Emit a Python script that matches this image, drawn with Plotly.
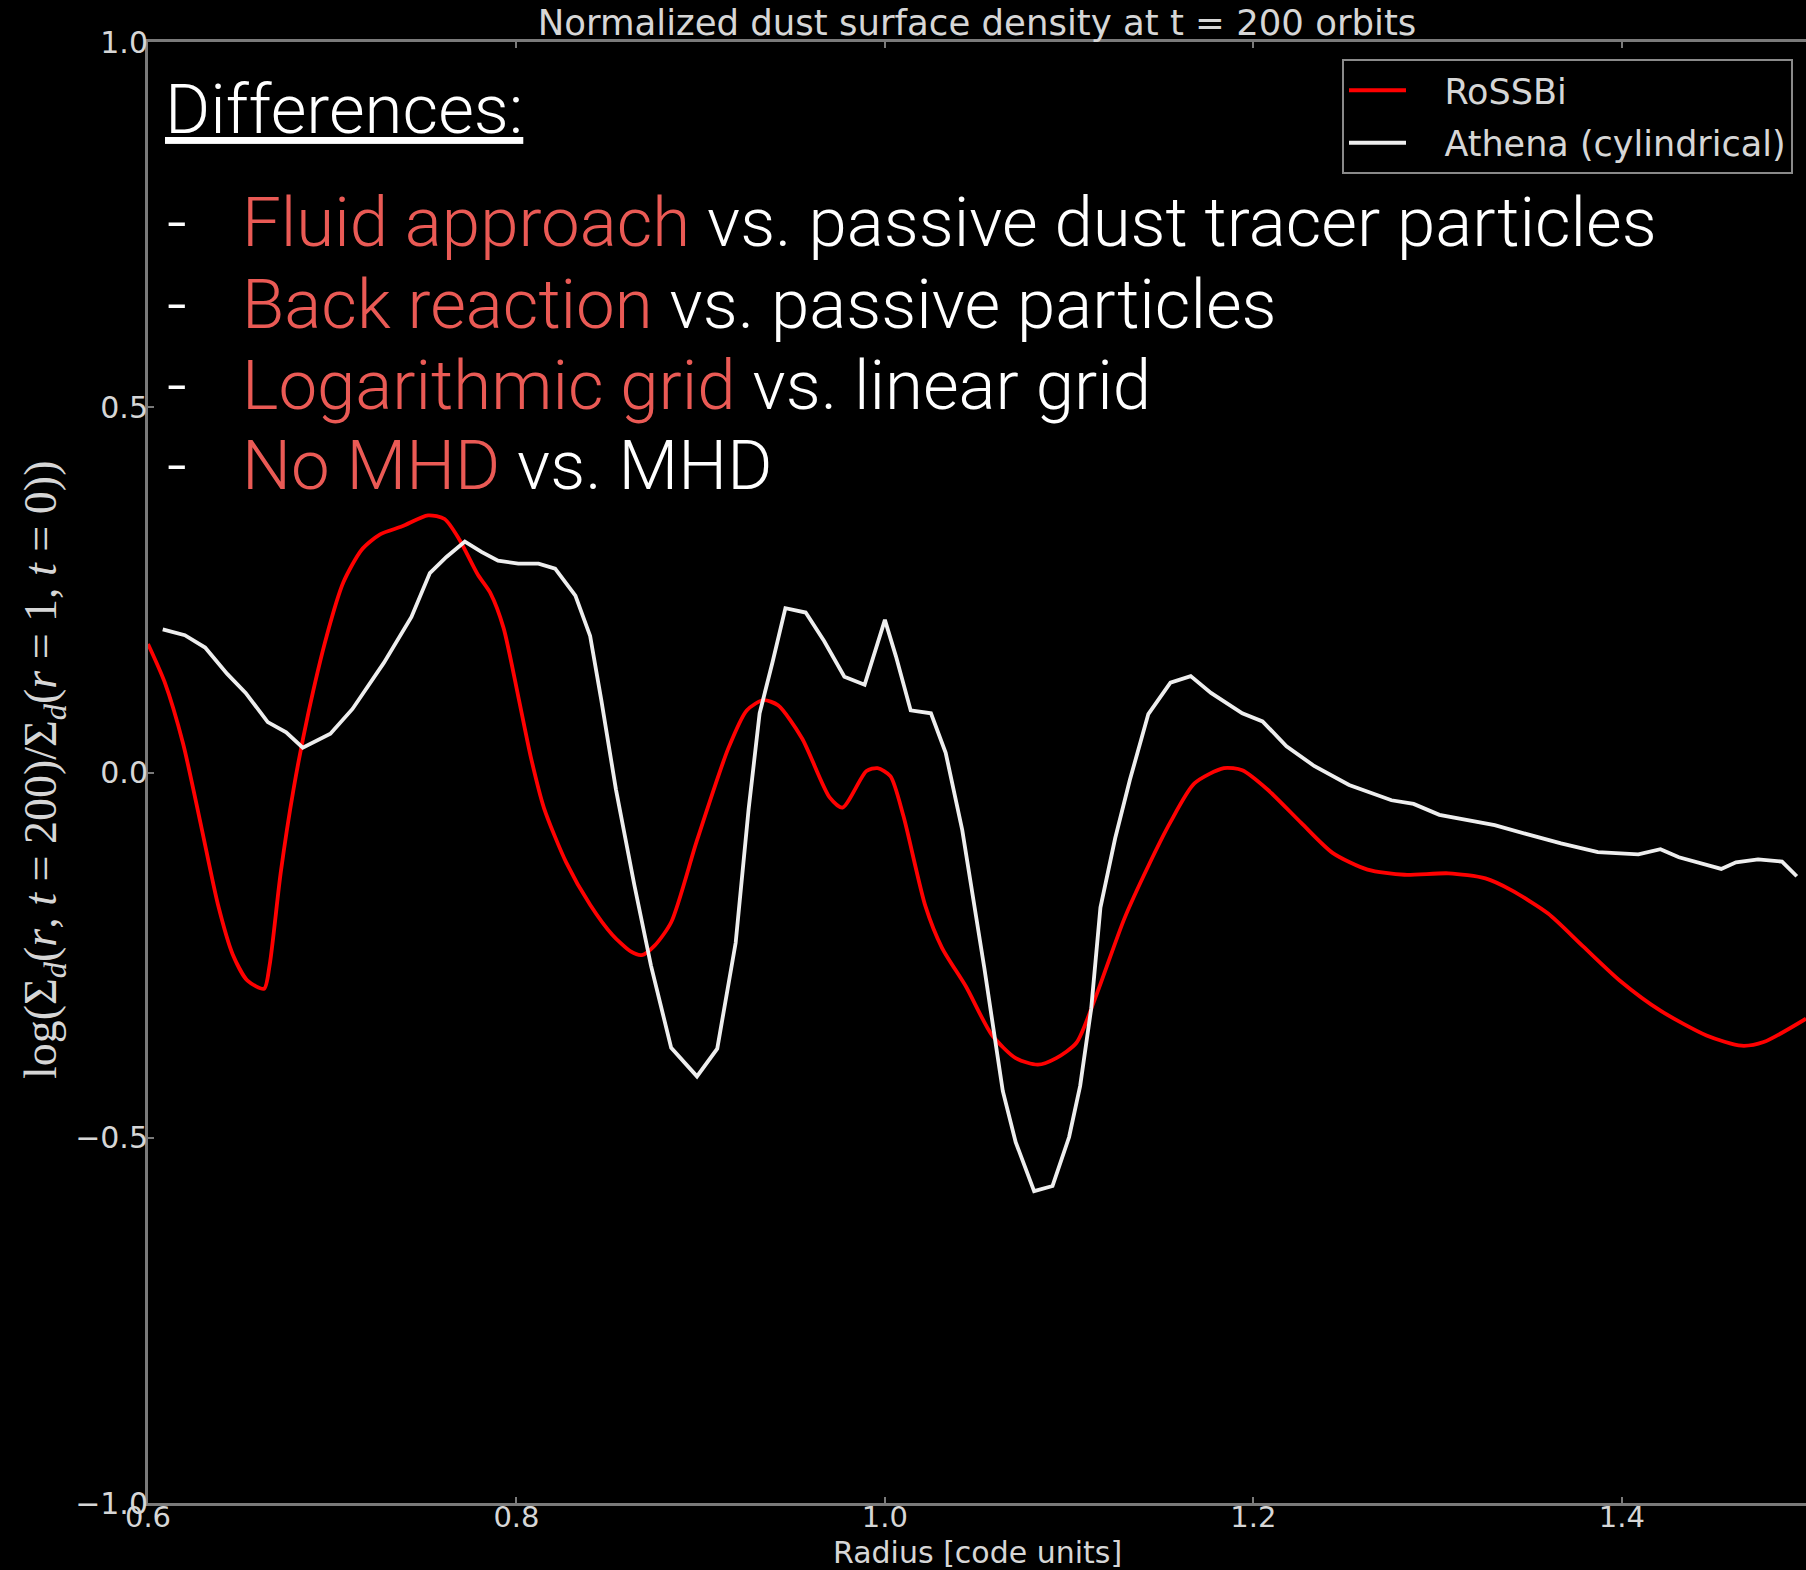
import plotly.graph_objects as go

# Normalized dust surface density log(Sigma_d(r, t=200) / Sigma_d(r=1, t=0))
radius_rossbi = [
    0.600, 0.609, 0.619, 0.629, 0.638, 0.646, 0.654, 0.663, 0.666, 0.672,
    0.679, 0.687, 0.697, 0.706, 0.716, 0.726, 0.738, 0.752, 0.761, 0.769,
    0.779, 0.786, 0.793, 0.801, 0.808, 0.815, 0.827, 0.840, 0.852, 0.862,
    0.868, 0.875, 0.884, 0.898, 0.915, 0.925, 0.934, 0.942, 0.955, 0.970,
    0.977, 0.990, 0.996, 1.003, 1.010, 1.022, 1.031, 1.044, 1.058, 1.071,
    1.083, 1.093, 1.104, 1.114, 1.130, 1.143, 1.155, 1.168, 1.184, 1.194,
    1.208, 1.226, 1.243, 1.262, 1.282, 1.306, 1.326, 1.340, 1.360, 1.379,
    1.399, 1.421, 1.446, 1.465, 1.477, 1.500,
]
density_rossbi = [
    0.176, 0.124, 0.040, -0.075, -0.181, -0.249, -0.285, -0.296, -0.264, -0.138,
    -0.023, 0.081, 0.187, 0.260, 0.305, 0.326, 0.337, 0.352, 0.347, 0.319,
    0.271, 0.245, 0.198, 0.104, 0.019, -0.049, -0.123, -0.181, -0.222, -0.245,
    -0.250, -0.237, -0.205, -0.093, 0.033, 0.085, 0.099, 0.092, 0.047, -0.034,
    -0.048, 0.002, 0.006, -0.005, -0.059, -0.183, -0.240, -0.293, -0.359, -0.391,
    -0.400, -0.391, -0.370, -0.310, -0.200, -0.128, -0.068, -0.015, 0.006, 0.003,
    -0.024, -0.069, -0.110, -0.133, -0.140, -0.138, -0.145, -0.161, -0.193, -0.238,
    -0.285, -0.326, -0.360, -0.374, -0.369, -0.337,
]

radius_athena = [
    0.608, 0.620, 0.631, 0.643, 0.653, 0.665, 0.675, 0.684, 0.699, 0.711,
    0.728, 0.743, 0.753, 0.762, 0.772, 0.781, 0.790, 0.801, 0.812, 0.821,
    0.832, 0.840, 0.846, 0.854, 0.864, 0.873, 0.884, 0.898, 0.909, 0.919,
    0.926, 0.932, 0.939, 0.946, 0.957, 0.967, 0.978, 0.989, 1.000, 1.006,
    1.014, 1.025, 1.033, 1.042, 1.054, 1.064, 1.071, 1.081, 1.091, 1.100,
    1.106, 1.112, 1.117, 1.125, 1.133, 1.143, 1.155, 1.166, 1.177, 1.194,
    1.205, 1.218, 1.233, 1.252, 1.275, 1.287, 1.301, 1.316, 1.331, 1.348,
    1.367, 1.387, 1.409, 1.421, 1.431, 1.454, 1.462, 1.474, 1.487, 1.495,
]
density_athena = [
    0.196, 0.188, 0.171, 0.135, 0.109, 0.069, 0.055, 0.034, 0.053, 0.087,
    0.150, 0.213, 0.273, 0.295, 0.316, 0.302, 0.290, 0.286, 0.286, 0.279,
    0.242, 0.187, 0.100, -0.023, -0.154, -0.264, -0.377, -0.416, -0.378, -0.233,
    -0.051, 0.081, 0.151, 0.225, 0.219, 0.180, 0.131, 0.120, 0.209, 0.159,
    0.085, 0.081, 0.027, -0.079, -0.268, -0.436, -0.506, -0.573, -0.566, -0.499,
    -0.429, -0.323, -0.185, -0.090, -0.010, 0.080, 0.123, 0.132, 0.109, 0.081,
    0.070, 0.036, 0.009, -0.017, -0.038, -0.043, -0.058, -0.065, -0.072, -0.084,
    -0.097, -0.109, -0.112, -0.105, -0.116, -0.132, -0.123, -0.119, -0.122, -0.142,
]

x_ticks = [0.6, 0.8, 1.0, 1.2, 1.4]
x_tick_labels = ["0.6", "0.8", "1.0", "1.2", "1.4"]
y_ticks = [-1.0, -0.5, 0.0, 0.5, 1.0]
y_tick_labels = ["\u22121.0", "\u22120.5", "0.0", "0.5", "1.0"]

series_names = ["RoSSBi", "Athena (cylindrical)"]

highlights = ["Fluid approach", "Back reaction", "Logarithmic grid", "No MHD"]
contrasts = ["vs. passive dust tracer particles", "vs. passive particles",
             "vs. linear grid", "vs. MHD"]

SANS = "DejaVu Sans"
LIGHT = "Roboto"
HILITE = "#ea5a55"
AXIS_GREY = "#7a7a7a"
TEXT_GREY = "#d6d6d6"
LEGEND_PAD = "\u00a0\u00a0\u00a0"  # gap between legend line sample and label

fig = go.Figure()
fig.add_trace(go.Scatter(
    x=radius_rossbi, y=density_rossbi, mode="lines",
    name=LEGEND_PAD + series_names[0],
    line=dict(color="#ff0000", width=3.8, shape="spline", smoothing=0.7),
    legendgroup="a",
))
fig.add_trace(go.Scatter(
    x=radius_athena, y=density_athena, mode="lines",
    name=LEGEND_PAD + series_names[1],
    line=dict(color="#eeeeee", width=3.8), legendgroup="b",
))

W, H = 1806, 1570
L, R, T, B = 148, 0, 42, 67
pw, ph = W - L - R, H - T - B


def px(xp):
    return (xp - L) / pw


def py(yp):
    return (H - B - yp) / ph


overlay_font = dict(family=LIGHT, size=69, color="white", weight=300)

annotations = []
# slide-style overlay text
annotations.append(dict(
    text="<u>Differences:</u>", x=px(163), y=py(110), xref="paper", yref="paper",
    xanchor="left", yanchor="middle", showarrow=False, font=overlay_font,
))
line_centres = [222, 304, 385, 465]
for hl, ct, yc in zip(highlights, contrasts, line_centres):
    annotations.append(dict(
        text="-", x=px(165), y=py(yc), xref="paper", yref="paper",
        xanchor="left", yanchor="middle", showarrow=False, font=overlay_font,
    ))
    annotations.append(dict(
        text=f"<span style='color:{HILITE}'>{hl}</span> {ct}",
        x=px(240), y=py(yc), xref="paper", yref="paper",
        xanchor="left", yanchor="middle", showarrow=False, font=overlay_font,
    ))

# axis titles
annotations.append(dict(
    text="Radius [code units]", x=0.5, y=py(1552), xref="paper", yref="paper",
    xanchor="center", yanchor="middle", showarrow=False,
    font=dict(family=SANS, size=30, color=TEXT_GREY),
))
annotations.append(dict(
    text="log(\u03a3<sub><i>d</i></sub>(<i>r</i>, <i>t</i> = 200)/\u03a3<sub><i>d</i></sub>(<i>r</i> = 1, <i>t</i> = 0))",
    x=px(44), y=py(770), xref="paper", yref="paper", textangle=-90,
    xanchor="center", yanchor="middle", showarrow=False,
    font=dict(family="Liberation Serif", size=46, color=TEXT_GREY),
))

fig.update_layout(
    width=W, height=H,
    margin=dict(l=L, r=R, t=T, b=B, pad=0),
    paper_bgcolor="black", plot_bgcolor="black",
    title=dict(
        text="Normalized dust surface density at t = 200 orbits",
        x=0.5, xref="paper", y=1 - 23 / H, yref="container",
        xanchor="center", yanchor="middle",
        font=dict(family=SANS, size=35.5, color=TEXT_GREY),
    ),
    showlegend=True,
    legend=dict(
        x=px(1793), y=py(59), xanchor="right", yanchor="top",
        bgcolor="black", bordercolor="#8a8a8a", borderwidth=2,
        font=dict(family=SANS, size=35, color=TEXT_GREY),
        traceorder="grouped", tracegroupgap=4, itemwidth=57,
    ),
    annotations=annotations,
)
fig.update_xaxes(
    range=[0.6, 1.5], tickvals=x_ticks, ticktext=x_tick_labels,
    showgrid=False, zeroline=False,
    showline=True, linecolor=AXIS_GREY, linewidth=3, mirror="ticks",
    ticks="inside", ticklen=6, tickwidth=2, tickcolor=AXIS_GREY,
    tickfont=dict(family=SANS, size=29, color=TEXT_GREY),
    ticklabelstandoff=-14,
)
fig.update_yaxes(
    range=[-1.0, 1.0], tickvals=y_ticks, ticktext=y_tick_labels,
    showgrid=False, zeroline=False,
    showline=True, linecolor=AXIS_GREY, linewidth=3, mirror=False,
    ticks="inside", ticklen=6, tickwidth=2, tickcolor=AXIS_GREY,
    tickfont=dict(family=SANS, size=30, color=TEXT_GREY),
    ticklabelstandoff=-9,
)

fig.write_html("out.html")
